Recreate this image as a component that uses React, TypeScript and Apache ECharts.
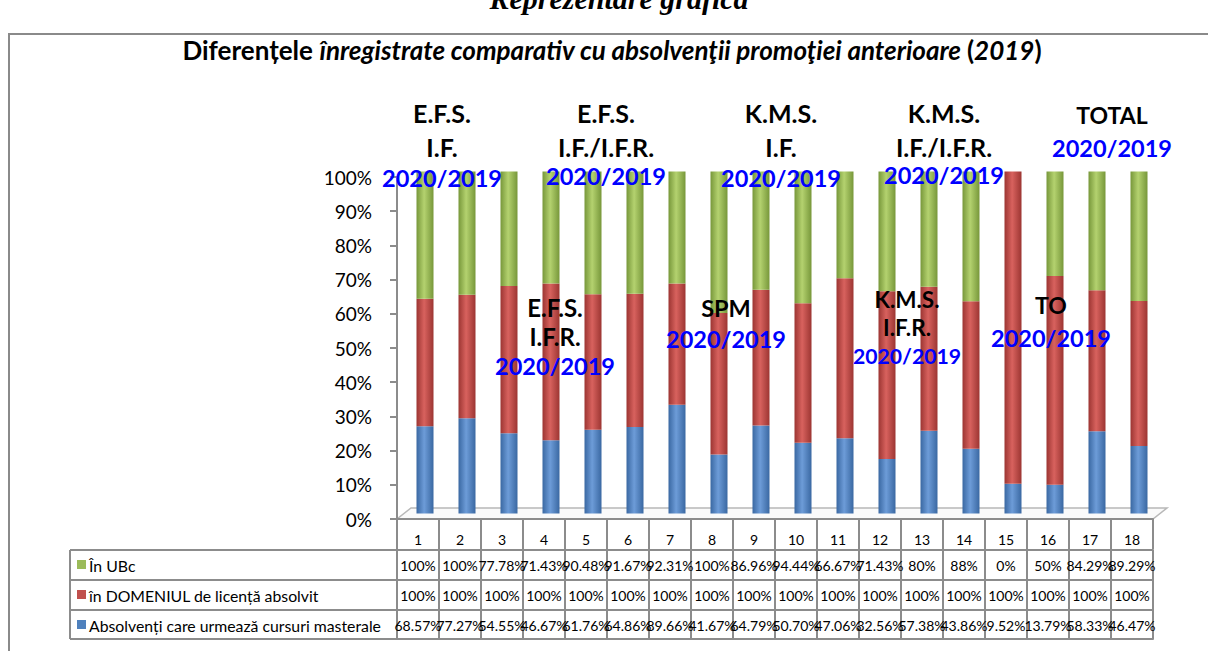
import React, { useEffect, useRef } from 'react';
import * as echarts from 'echarts';

const categories = ['1', '2', '3', '4', '5', '6', '7', '8', '9', '10', '11', '12', '13', '14', '15', '16', '17', '18'];
const inUBc = [100, 100, 77.78, 71.43, 90.48, 91.67, 92.31, 100, 86.96, 94.44, 66.67, 71.43, 80, 88, 0, 50, 84.29, 89.29];
const inDomeniu = [100, 100, 100, 100, 100, 100, 100, 100, 100, 100, 100, 100, 100, 100, 100, 100, 100, 100];
const absolventi = [68.57, 77.27, 54.55, 46.67, 61.76, 64.86, 89.66, 41.67, 64.79, 50.7, 47.06, 32.56, 57.38, 43.86, 9.52, 13.79, 58.33, 46.47];
const seriesNames = ['În UBc', 'în DOMENIUL de licență absolvit', 'Absolvenți care urmează cursuri masterale'];

const groupLabels = [
  { lines: ['E.F.S.', 'I.F.'], sub: '2020/2019' },
  { lines: ['E.F.S.', 'I.F./I.F.R.'], sub: '2020/2019' },
  { lines: ['K.M.S.', 'I.F.'], sub: '2020/2019' },
  { lines: ['K.M.S.', 'I.F./I.F.R.'], sub: '2020/2019' },
  { lines: ['TOTAL'], sub: '2020/2019' },
  { lines: ['E.F.S.', 'I.F.R.'], sub: '2020/2019' },
  { lines: ['SPM'], sub: '2020/2019' },
  { lines: ['K.M.S.', 'I.F.R.'], sub: '2020/2019' },
  { lines: ['TO'], sub: '2020/2019' },
];
const groupLayout = [
  { x: 442, ys: [113, 147], ySub: 178, fs: 25, subFs: 23.5 },
  { x: 606, ys: [113, 147], ySub: 176, fs: 25, subFs: 23.5 },
  { x: 781, ys: [113, 147], ySub: 178, fs: 25, subFs: 23.5 },
  { x: 944, ys: [113, 147], ySub: 175, fs: 25, subFs: 23.5 },
  { x: 1112, ys: [115], ySub: 148, fs: 23, subFs: 23.5 },
  { x: 555, ys: [307, 336], ySub: 366, fs: 24, subFs: 23.5 },
  { x: 726, ys: [308], ySub: 339, fs: 23.5, subFs: 23.5 },
  { x: 907, ys: [299, 327], ySub: 356, fs: 22.5, subFs: 21.2 },
  { x: 1051, ys: [305], ySub: 338, fs: 23, subFs: 23.5 },
];

const fmt = (v: number) => (Number.isInteger(v) ? `${v}%` : `${v.toFixed(2)}%`);

const FONT = 'Lato';
const GRID = { left: 397, top: 177, width: 756, height: 342 };
const DEPTH = { dx: 7, dy: -5.5 };
const LINE = '#8c8c8c';

function cyl(dark: string, light: string) {
  return new echarts.graphic.LinearGradient(0, 0, 1, 0, [
    { offset: 0, color: dark },
    { offset: 0.45, color: light },
    { offset: 1, color: dark },
  ]);
}

export default function App() {
  const ref = useRef<HTMLDivElement>(null);
  useEffect(() => {
    const chart = echarts.init(ref.current!, null, { renderer: 'svg' });
    const totals = categories.map((_, i) => absolventi[i] + inDomeniu[i] + inUBc[i]);
    const pct = (arr: number[]) => arr.map((v, i) => (v / totals[i]) * 100);

    const colors = ['#9BBB59', '#C0504D', '#4F81BD'];
    const fills = [cyl('#77973a', '#b4d26f'), cyl('#9c3532', '#d8625e'), cyl('#3a68a2', '#6d9cd8')];

    const rowData = [inUBc, inDomeniu, absolventi];
    const tableAxes: any[] = [
      {
        type: 'category', gridIndex: 0, data: categories, position: 'bottom', offset: 0,
        axisLine: { show: true, lineStyle: { color: LINE, width: 2 } },
        axisTick: { show: true, length: 30, interval: 0, lineStyle: { color: LINE, width: 2 } },
        axisLabel: { interval: 0, margin: 13, fontFamily: FONT, fontSize: 14, color: '#000' },
      },
      ...rowData.map((arr, r) => ({
        type: 'category', gridIndex: 0, data: categories, position: 'bottom', offset: 31 + r * 30,
        axisLine: { show: true, lineStyle: { color: LINE, width: 2 } },
        axisTick: { show: true, length: r === 2 ? 29 : 30, interval: 0, lineStyle: { color: LINE, width: 2 } },
        axisLabel: {
          interval: 0, margin: 8, fontFamily: FONT, fontSize: 14, color: '#000',
          formatter: (_: string, idx: number) => fmt(arr[idx]),
        },
      })),
      {
        type: 'category', gridIndex: 0, data: categories, position: 'bottom', offset: 120,
        axisLine: { show: true, lineStyle: { color: LINE, width: 2 } },
        axisTick: { show: false }, axisLabel: { show: false },
      },
      {
        type: 'category', gridIndex: 1, data: categories, show: false,
      },
    ];

    const graphic: any[] = [];
    graphic.push({ type: 'rect', shape: { x: 9, y: 34, width: 1220, height: 640 }, style: { fill: 'none', stroke: '#8a8a8a', lineWidth: 2 }, z: -10 });
    graphic.push({ type: 'text', x: 619, y: -2, style: { text: 'Reprezentare grafică', fontFamily: 'Liberation Serif', fontWeight: 'bold', fontStyle: 'italic', fontSize: 30, fill: '#000', align: 'center', verticalAlign: 'middle' } });
    graphic.push({
      type: 'text', x: 612, y: 50,
      style: {
        text: '{b|Diferențele }{bi|înregistrate comparativ cu absolvenţii promoţiei anterioare }{b|(}{bi|2019}{b|)}',
        align: 'center', verticalAlign: 'middle',
        rich: {
          b: { fontFamily: FONT, fontWeight: 'bold', fontSize: 26, fill: '#000' },
          bi: { fontFamily: FONT, fontWeight: 'bold', fontStyle: 'italic', fontSize: 26, fill: '#000' },
        },
      },
    });
    const x0 = GRID.left, x1 = GRID.left + GRID.width, yb = GRID.top + GRID.height;
    graphic.push({
      type: 'polygon', z: -1,
      shape: { points: [[x0, yb], [x1, yb], [x1 + 2 * DEPTH.dx, yb + 2 * DEPTH.dy], [x0 + 2 * DEPTH.dx, yb + 2 * DEPTH.dy]] },
      style: { fill: '#fafafa', stroke: '#b8b8b8', lineWidth: 1.5 },
    });
    const lx = 70;
    graphic.push({ type: 'line', shape: { x1: lx, y1: 550, x2: lx, y2: 639 }, style: { stroke: LINE, lineWidth: 2 } });
    [550, 580, 610, 639].forEach((yy) => {
      graphic.push({ type: 'line', shape: { x1: lx, y1: yy, x2: x0, y2: yy }, style: { stroke: LINE, lineWidth: 2 } });
    });
    seriesNames.forEach((n, i) => {
      const cy = 565 + i * 30;
      graphic.push({ type: 'rect', shape: { x: 77, y: cy - 5, width: 9, height: 9 }, style: { fill: colors[i] } });
      graphic.push({ type: 'text', x: 89, y: cy, style: { text: n, fontFamily: FONT, fontSize: 15.8, fill: '#000', verticalAlign: 'middle', align: 'left' } });
    });
    groupLabels.forEach((g, i) => {
      const L = groupLayout[i];
      g.lines.forEach((t, j) => {
        graphic.push({ type: 'text', x: L.x, y: L.ys[j], z: 10, style: { text: t, fontFamily: FONT, fontWeight: 'bold', fontSize: L.fs, fill: '#000', align: 'center', verticalAlign: 'middle' } });
      });
      graphic.push({ type: 'text', x: L.x, y: L.ySub, z: 10, style: { text: g.sub, fontFamily: FONT, fontWeight: 'bold', fontSize: L.subFs, fill: '#0000ff', align: 'center', verticalAlign: 'middle' } });
    });

    const seriesDefs = [
      { name: seriesNames[2], data: pct(absolventi), fill: fills[2] },
      { name: seriesNames[1], data: pct(inDomeniu), fill: fills[1] },
      { name: seriesNames[0], data: pct(inUBc), fill: fills[0] },
    ];

    const option: any = {
      animation: false,
      backgroundColor: '#fff',
      grid: [
        { ...GRID },
        { left: GRID.left + DEPTH.dx, top: GRID.top + DEPTH.dy, width: GRID.width, height: GRID.height },
      ],
      xAxis: tableAxes,
      yAxis: [
        {
          type: 'value', gridIndex: 0, min: 0, max: 100, interval: 10,
          axisLine: { show: true, lineStyle: { color: LINE, width: 2 } },
          axisTick: { show: true, length: 7, lineStyle: { color: LINE, width: 2 } },
          splitLine: { show: false },
          axisLabel: { margin: 25, fontFamily: FONT, fontSize: 19, color: '#000', formatter: (v: number) => `${v}%` },
        },
        { type: 'value', gridIndex: 1, min: 0, max: 100, interval: 10, show: false },
      ],
      series: seriesDefs.map((s) => ({
        type: 'bar', name: s.name, stack: 'total', xAxisIndex: 5, yAxisIndex: 1,
        barWidth: 17, data: s.data, itemStyle: { color: s.fill },
      })),
      graphic,
    };
    chart.setOption(option);
    return () => chart.dispose();
  }, []);
  return <div ref={ref} style={{ position: 'fixed', left: 0, top: 0, width: 1208, height: 651, background: '#fff' }} />;
}
